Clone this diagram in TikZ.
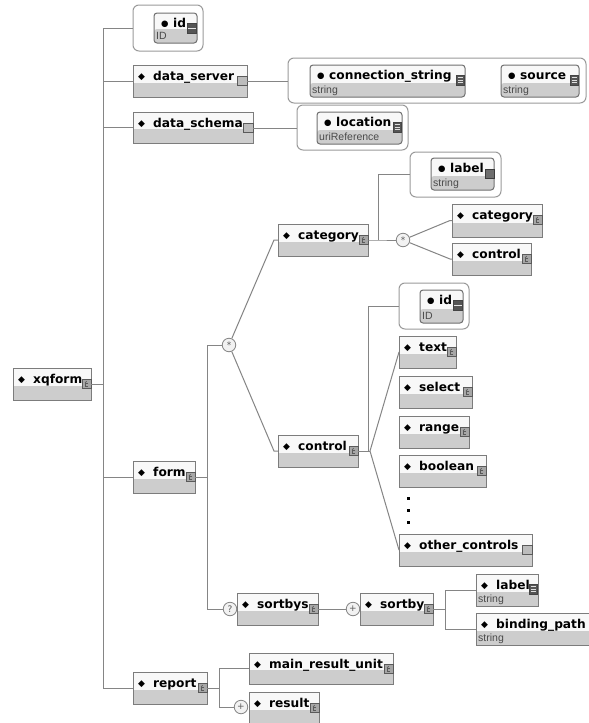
\documentclass[tikz,border=0pt]{standalone}
\usepackage{fontspec}
\newfontfamily\dvsans{DejaVu Sans}
\newfontfamily\lsans{Liberation Sans}
\usetikzlibrary{calc}

\definecolor{wire}{HTML}{858585}
\definecolor{elemline}{HTML}{7C7C7C}
\definecolor{topfill}{HTML}{F8F8F8}
\definecolor{botfill}{HTML}{CDCDCD}
\definecolor{grpline}{HTML}{9A9A9A}
\definecolor{attline}{HTML}{707070}
\definecolor{iconfill}{HTML}{A6A6A6}
\definecolor{iconline}{HTML}{5A5A5A}
\definecolor{darkicon}{HTML}{555555}
\definecolor{typetext}{HTML}{4A4A4A}
\definecolor{compfill}{HTML}{F2F2F2}

\tikzset{
  wire/.style={draw=wire, line width=1pt},
  elem/.style={rectangle, draw=elemline, line width=1pt, fill=topfill,
    inner sep=0pt, outer sep=0pt,
    path picture={\fill[botfill] ([yshift=14pt]path picture bounding box.south west)
      rectangle (path picture bounding box.south east);}},
  attr/.style={elem, draw=attline, rounded corners=3pt},
  grp/.style={rectangle, draw=grpline, line width=1pt, fill=white,
    rounded corners=6pt, inner sep=0pt, outer sep=0pt},
  elabel/.style={anchor=base west, inner sep=0pt,
    font=\dvsans\bfseries\fontsize{12.2}{14}\selectfont},
  tlabel/.style={anchor=base west, inner sep=0pt, text=typetext,
    font=\lsans\fontsize{10.5}{12}\selectfont},
  cicon/.style={rectangle, draw=iconline, fill=iconfill, line width=0.7pt,
    minimum size=9pt, inner sep=0pt, outer sep=0pt,
    path picture={
      \draw[iconline, line width=0.6pt]
        ([xshift=1.6pt,yshift=1.2pt]path picture bounding box.center) -- ++(-3pt,0pt)
        -- ++(0pt,-3.2pt) -- ++(3pt,0pt);
      \draw[iconline, line width=0.6pt]
        ([xshift=-1.4pt,yshift=1.2pt]path picture bounding box.center) -- ++(1.6pt,1.6pt);}},
  picon/.style={rectangle, draw=iconline, fill=iconfill!75, line width=0.7pt,
    minimum size=9.5pt, inner sep=0pt, outer sep=0pt},
  licon/.style={rectangle, draw=darkicon!80!black, fill=darkicon, line width=0.6pt,
    minimum width=8pt, minimum height=10pt, inner sep=0pt, outer sep=0pt,
    path picture={
      \foreach \k in {-2.5,0,2.5}
        \draw[white!75!gray, line width=0.6pt]
          ([xshift=1.2pt,yshift=\k pt]path picture bounding box.west)
          -- ([xshift=-1.2pt,yshift=\k pt]path picture bounding box.east);}},
  bicon/.style={rectangle, draw=darkicon!80!black, fill=darkicon, line width=0.6pt,
    minimum width=9pt, minimum height=10pt, inner sep=0pt, outer sep=0pt,
    path picture={
      \draw[white!80!gray, line width=1pt]
        (path picture bounding box.west) -- (path picture bounding box.east);}},
  sicon/.style={rectangle, draw=darkicon!70!black, fill=darkicon!85, line width=0.6pt,
    minimum size=9pt, inner sep=0pt, outer sep=0pt},
  comp/.style={circle, draw=wire, fill=compfill, line width=0.8pt,
    minimum size=13.5pt, inner sep=0pt, text=iconline,
    font=\dvsans\fontsize{9}{9}\selectfont}
}

% element box: name, left, top, right, bottom, label
\newcommand\xelem[6]{%
  \node[elem, minimum width={(#4-#2)*1pt}, minimum height={(#5-#3)*1pt}]
    (#1) at ({(#2+#4)/2},{(#3+#5)/2}) {};
  \node[elabel] (#1-t) at ([xshift=5pt,yshift=-15pt]#1.north west)
    {\makebox[15pt][l]{\fontsize{9}{9}\selectfont\raisebox{0.3pt}{◆}}#6};}
% attribute box: name, left, top, right, bottom, label
\newcommand\xattr[6]{%
  \node[attr, minimum width={(#4-#2)*1pt}, minimum height={(#5-#3)*1pt}]
    (#1) at ({(#2+#4)/2},{(#3+#5)/2}) {};
  \node[elabel] (#1-t) at ([xshift=7pt,yshift=-14pt]#1.north west)
    {\makebox[12pt][l]{\fontsize{8.5}{8.5}\selectfont\raisebox{1pt}{●}}#6};}
% attribute group: name, left, top, right, bottom
\newcommand\xgroup[5]{%
  \node[grp, minimum width={(#4-#2)*1pt}, minimum height={(#5-#3)*1pt}]
    (#1) at ({(#2+#4)/2},{(#3+#5)/2}) {};}
% type name under a label
\newcommand\xtype[2]{\node[tlabel] (#1-y) at ([xshift=2pt,yshift=4pt]#1.south west) {#2};}
% icons at the right edge of a box
\newcommand\xcplx[1]{\node[cicon] (#1-i) at ([xshift=-4.5pt,yshift=-16pt]#1.north east) {};}
\newcommand\xplain[1]{\node[picon] (#1-i) at ([xshift=-4.5pt,yshift=-16pt]#1.north east) {};}
\newcommand\xlines[1]{\node[licon] (#1-i) at ([xshift=-4.5pt,yshift=-15pt]#1.north east) {};}
\newcommand\xbar[1]{\node[bicon] (#1-i) at ([xshift=-5.5pt,yshift=-15pt]#1.north east) {};}
\newcommand\xsquare[1]{\node[sicon] (#1-i) at ([xshift=-4.5pt,yshift=-15.5pt]#1.north east) {};}

\begin{document}
\begin{tikzpicture}[x=1pt,y=-1pt]
\clip (0,0) rectangle (589,723);
\fill[white] (0,0) rectangle (589,723);

% ---- attribute groups ----
\xgroup{idg}{133}{5}{203}{51}
\xgroup{dsrvg}{288}{58}{586}{103}
\xgroup{dschg}{297}{105}{408}{150}
\xgroup{lblg}{410}{152}{501}{197}
\xgroup{idg2}{399}{283}{469}{329}

% ---- attributes ----
\xattr{id1}{154}{13}{197}{43}{id}\xtype{id1}{ID}\xbar{id1}
\xattr{cstr}{310}{65}{465}{97}{connection\_string}\xtype{cstr}{string}\xlines{cstr}
\xattr{src}{501}{65}{579}{97}{source}\xtype{src}{string}\xlines{src}
\xattr{loc}{317}{112}{402}{144}{location}\xtype{loc}{uriReference}\xlines{loc}
\xattr{lbl}{431}{158}{494}{190}{label}\xtype{lbl}{string}\xsquare{lbl}
\xattr{id2}{420}{290}{463}{323}{id}\xtype{id2}{ID}\xbar{id2}

% ---- elements ----
\xelem{xqform}{13}{368}{91}{400}{xqform}\xcplx{xqform}
\xelem{dsrv}{133}{65}{247}{97}{data\_server}\xplain{dsrv}
\xelem{dsch}{133}{112}{253}{143}{data\_schema}\xplain{dsch}
\xelem{form}{133}{461}{195}{493}{form}\xcplx{form}
\xelem{report}{133}{672}{207}{704}{report}\xcplx{report}
\xelem{cat}{278}{224}{368}{256}{category}\xcplx{cat}
\xelem{ctl}{278}{435}{358}{467}{control}\xcplx{ctl}
\xelem{cat2}{452}{204}{542}{237}{category}\xcplx{cat2}
\xelem{ctl2}{452}{243}{531}{275}{control}\xcplx{ctl2}
\xelem{text}{399}{336}{456}{368}{text}\xcplx{text}
\xelem{select}{399}{376}{472}{408}{select}\xcplx{select}
\xelem{range}{399}{416}{469}{448}{range}\xcplx{range}
\xelem{boolean}{399}{455}{486}{487}{boolean}\xcplx{boolean}
\xelem{other}{399}{534}{532}{566}{other\_controls}\xplain{other}
\xelem{sortbys}{237}{593}{318}{625}{sortbys}\xcplx{sortbys}
\xelem{sortby}{360}{593}{433}{625}{sortby}\xcplx{sortby}
\xelem{slabel}{476}{574}{538}{606}{label}\xtype{slabel}{string}\xlines{slabel}
\xelem{bpath}{476}{613}{600}{645}{binding\_path}\xtype{bpath}{string}\xlines{bpath}
\xelem{mru}{249}{653}{393}{684}{main\_result\_unit}\xcplx{mru}
\xelem{result}{249}{692}{319}{724}{result}\xcplx{result}

% ---- compositors ----
\node[comp] (fseq) at (229,345) {*};
\node[comp] (cseq) at (403,240) {*};
\node[comp] (opt) at (230,609) {?};
\node[comp] (plus1) at (353,609) {+};
\node[comp] (plus2) at (241,707) {+};

% the elided choices between boolean and other_controls
\foreach \yy in {498,510,522} \fill[black] (406.5,\yy-1.5) rectangle ++(3,3);

% ---- connectors ----
\draw[wire] (xqform-i.east) -- ++(12,0) coordinate (trunk);
\draw[wire] (trunk) |- (idg.west);
\draw[wire] (trunk) |- (dsrv.west);
\draw[wire] (trunk) |- (dsch.west);
\draw[wire] (trunk) |- (form.west);
\draw[wire] (trunk) |- (report.west);

\draw[wire] (dsrv-i.east) -- (dsrv-i.east -| dsrvg.west);
\draw[wire] (dsch-i.east) -- (dsch-i.east -| dschg.west);

\draw[wire] (form-i.east) -- ++(12,0) coordinate (formj);
\draw[wire] (formj) |- (fseq.west);
\draw[wire] (formj) |- (opt.west);
\draw[wire] (fseq) -- ([xshift=-4pt]cat.west) -- (cat.west);
\draw[wire] (fseq) -- ([xshift=-4pt]ctl.west) -- (ctl.west);

\draw[wire] (cat-i.east) -- ++(10,0) coordinate (catj) -- (cseq.west);
\draw[wire] (catj) |- (lblg.west);
\draw[wire] (cseq) -- ([xshift=-2pt]cat2.west) -- (cat2.west);
\draw[wire] (cseq) -- ([xshift=-2pt]ctl2.west) -- (ctl2.west);

\draw[wire] (ctl-i.east) -- ++(12,0) coordinate (ctlj);
\draw[wire] ([xshift=-2pt]ctlj) |- (idg2.west);
\draw[wire] (ctlj) -- (text.west);
\draw[wire] (ctlj) -- (other.west);

\draw[wire] (sortbys-i.east) -- (plus1.west);
\draw[wire] (sortby-i.east) -- ++(12,0) coordinate (sbj);
\draw[wire] (sbj) |- (slabel.west);
\draw[wire] (sbj) |- (bpath.west);

\draw[wire] (report-i.east) -- ++(12,0) coordinate (repj);
\draw[wire] (repj) |- (mru.west);
\draw[wire] (repj) |- (plus2.west);
\end{tikzpicture}
\end{document}
